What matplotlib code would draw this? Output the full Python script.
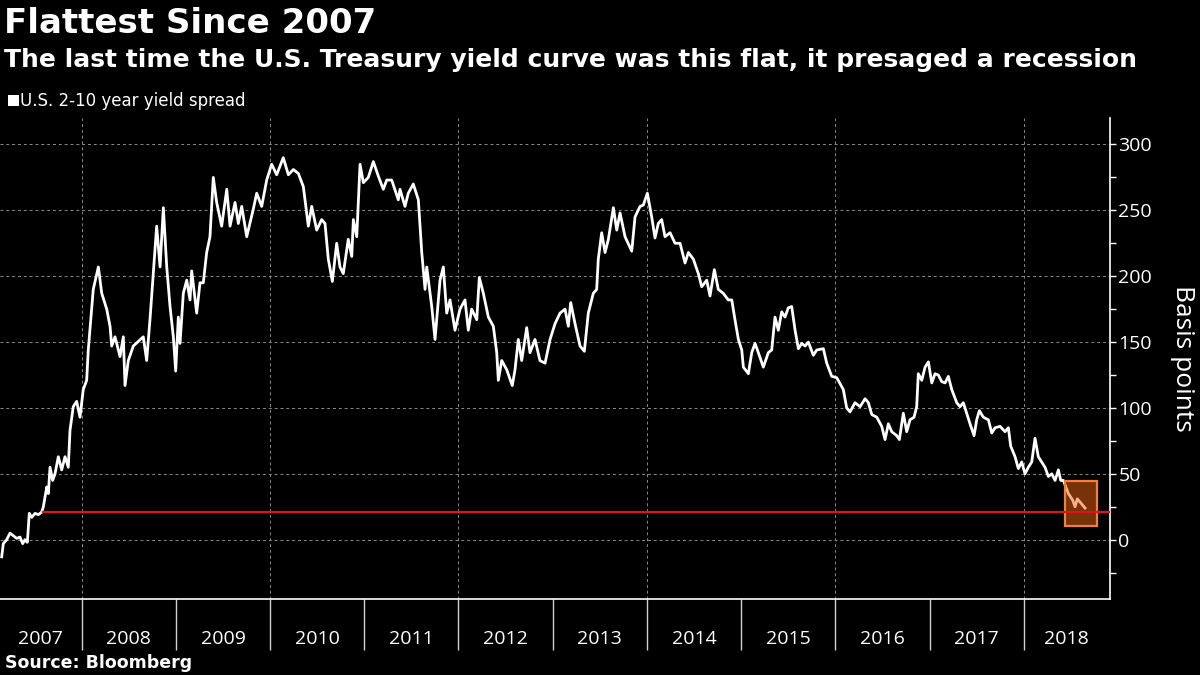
import matplotlib
matplotlib.use("Agg")
import matplotlib.pyplot as plt
from matplotlib.patches import Rectangle
from matplotlib.ticker import FixedLocator, NullFormatter, FixedFormatter

plt.rcParams['font.family'] = ['Open Sans', 'DejaVu Sans']

# ---- data (decimal year, basis points) ----
years = [
    2007.151, 2007.168, 2007.204, 2007.239, 2007.274, 2007.310, 2007.345, 2007.374, 2007.398, 2007.423,
    2007.444, 2007.470, 2007.505, 2007.540, 2007.576, 2007.593, 2007.629, 2007.646, 2007.664, 2007.692,
    2007.717, 2007.752, 2007.788, 2007.823, 2007.858, 2007.876, 2007.911, 2007.947, 2007.982, 2008.017,
    2008.053, 2008.070, 2008.123, 2008.177, 2008.213, 2008.266, 2008.301, 2008.319, 2008.354, 2008.407,
    2008.442, 2008.460, 2008.495, 2008.548, 2008.654, 2008.690, 2008.725, 2008.760, 2008.796, 2008.832,
    2008.867, 2008.903, 2008.938, 2008.973, 2008.998, 2009.026, 2009.044, 2009.079, 2009.115, 2009.150,
    2009.168, 2009.221, 2009.256, 2009.291, 2009.327, 2009.362, 2009.397, 2009.433, 2009.486, 2009.540,
    2009.575, 2009.628, 2009.663, 2009.699, 2009.752, 2009.822, 2009.858, 2009.911, 2009.964, 2010.017,
    2010.070, 2010.140, 2010.194, 2010.247, 2010.300, 2010.353, 2010.406, 2010.442, 2010.495, 2010.548,
    2010.583, 2010.618, 2010.661, 2010.707, 2010.742, 2010.777, 2010.830, 2010.867, 2010.884, 2010.920,
    2010.955, 2010.990, 2011.043, 2011.096, 2011.149, 2011.202, 2011.238, 2011.291, 2011.361, 2011.379,
    2011.432, 2011.467, 2011.520, 2011.574, 2011.610, 2011.645, 2011.663, 2011.716, 2011.751, 2011.804,
    2011.839, 2011.875, 2011.910, 2011.963, 2012.016, 2012.069, 2012.104, 2012.140, 2012.194, 2012.221,
    2012.264, 2012.317, 2012.370, 2012.406, 2012.423, 2012.459, 2012.512, 2012.571, 2012.600, 2012.635,
    2012.671, 2012.724, 2012.759, 2012.812, 2012.865, 2012.919, 2012.972, 2013.025, 2013.078, 2013.131,
    2013.166, 2013.191, 2013.237, 2013.290, 2013.336, 2013.378, 2013.431, 2013.467, 2013.484, 2013.520,
    2013.556, 2013.591, 2013.644, 2013.680, 2013.715, 2013.768, 2013.839, 2013.874, 2013.927, 2013.962,
    2014.005, 2014.051, 2014.086, 2014.121, 2014.157, 2014.192, 2014.246, 2014.299, 2014.352, 2014.405,
    2014.440, 2014.493, 2014.546, 2014.582, 2014.635, 2014.670, 2014.716, 2014.758, 2014.811, 2014.864,
    2014.901, 2014.935, 2014.971, 2015.007, 2015.024, 2015.077, 2015.113, 2015.148, 2015.183, 2015.236,
    2015.289, 2015.325, 2015.360, 2015.395, 2015.431, 2015.466, 2015.501, 2015.537, 2015.573, 2015.608,
    2015.644, 2015.679, 2015.714, 2015.767, 2015.803, 2015.873, 2015.909, 2015.962, 2016.015, 2016.085,
    2016.121, 2016.156, 2016.209, 2016.263, 2016.316, 2016.351, 2016.387, 2016.440, 2016.493, 2016.528,
    2016.563, 2016.599, 2016.652, 2016.680, 2016.722, 2016.758, 2016.793, 2016.836, 2016.864, 2016.881,
    2016.918, 2016.953, 2016.988, 2017.024, 2017.059, 2017.094, 2017.130, 2017.165, 2017.200, 2017.236,
    2017.289, 2017.324, 2017.359, 2017.395, 2017.430, 2017.473, 2017.501, 2017.529, 2017.571, 2017.625,
    2017.661, 2017.696, 2017.749, 2017.802, 2017.837, 2017.862, 2017.908, 2017.943, 2017.979, 2018.014,
    2018.049, 2018.085, 2018.120, 2018.155, 2018.191, 2018.226, 2018.262, 2018.298, 2018.333, 2018.368,
    2018.393, 2018.421, 2018.474, 2018.520, 2018.545, 2018.569, 2018.605, 2018.651,
]
spread = [
    -13, -3, 0, 5, 3, 1, 2, -3, 0, -2,
    20, 17, 20, 19, 21, 25, 40, 35, 55, 45,
    50, 63, 53, 63, 55, 83, 101, 105, 93, 114,
    121, 144, 190, 207, 187, 175, 162, 147, 154, 139,
    154, 117, 136, 147, 154, 136, 167, 202, 238, 207,
    252, 207, 177, 154, 128, 169, 149, 187, 197, 182,
    204, 172, 195, 195, 218, 230, 275, 256, 238, 266,
    238, 256, 240, 253, 230, 251, 263, 253, 273, 285,
    277, 290, 277, 281, 278, 268, 238, 253, 235, 243,
    240, 213, 196, 225, 207, 202, 228, 215, 243, 230,
    285, 271, 275, 287, 276, 266, 273, 273, 258, 266,
    253, 263, 270, 258, 218, 190, 207, 177, 152, 197,
    207, 172, 182, 159, 175, 182, 159, 175, 167, 199,
    187, 169, 162, 142, 121, 136, 129, 117, 129, 152,
    136, 161, 142, 152, 136, 134, 152, 164, 172, 175,
    162, 180, 164, 147, 143, 172, 187, 190, 213, 233,
    218, 228, 252, 235, 248, 230, 219, 245, 253, 254,
    263, 245, 229, 240, 243, 230, 233, 225, 225, 210,
    218, 213, 202, 192, 197, 185, 205, 190, 187, 182,
    182, 167, 152, 144, 131, 126, 142, 149, 142, 131,
    142, 144, 169, 159, 173, 169, 176, 177, 159, 145,
    149, 147, 150, 140, 144, 145, 134, 124, 123, 114,
    100, 97, 104, 101, 107, 104, 95, 93, 86, 76,
    88, 82, 79, 76, 96, 82, 91, 93, 101, 126,
    121, 131, 135, 119, 126, 125, 120, 119, 124, 114,
    104, 101, 104, 96, 88, 79, 91, 98, 93, 91,
    81, 85, 86, 82, 85, 71, 63, 54, 59, 50,
    55, 59, 77, 63, 59, 55, 48, 50, 45, 53,
    45, 45, 35, 30, 25, 31, 28, 24,
]

x_range = [2007.133, 2018.916]
y_range = [-45, 320]
year_labels = ['2007', '2008', '2009', '2010', '2011', '2012',
               '2013', '2014', '2015', '2016', '2017', '2018']
y_ticks = [0, 50, 100, 150, 200, 250, 300]
y_minor = [-25, 25, 75, 125, 175, 225, 275]
red_level = 21
red_start = 2007.59
box_x = [2018.44, 2018.78]
box_y = [10.3, 44.5]

title = "Flattest Since 2007"
subtitle = "The last time the U.S. Treasury yield curve was this flat, it presaged a recession"
legend_label = "U.S. 2-10 year yield spread"
y_label = "Basis points"
source = "Source: Bloomberg"

# ---- figure ----
fig = plt.figure(figsize=(12, 6.75), dpi=100, facecolor='black')
ax = fig.add_axes([0.0, 0.1126, 0.925, 0.7124])
ax.set_facecolor('black')

ax.plot(years, spread, color='white', lw=2.0, zorder=3, solid_joinstyle='round')

ax.add_patch(Rectangle((box_x[0], box_y[0]), box_x[1] - box_x[0], box_y[1] - box_y[0],
                       facecolor='#f06414', alpha=0.5, edgecolor='none', zorder=4))
ax.add_patch(Rectangle((box_x[0], box_y[0]), box_x[1] - box_x[0], box_y[1] - box_y[0],
                       facecolor='none', edgecolor='#f08040', lw=1.6, zorder=4))

ax.plot([red_start, x_range[1]], [red_level, red_level], color='#e01414', lw=1.6, zorder=5)

ax.set_xlim(*x_range)
ax.set_ylim(*y_range)

# gridlines
for yv in y_ticks:
    ax.axhline(yv, color='#8a8a8a', lw=0.7, ls=(0, (3, 3)), zorder=1)
first_year = int(year_labels[0])
boundaries = [first_year + i for i in range(1, len(year_labels))]
for b in boundaries:
    if b % 2 == 0:
        ax.axvline(b, color='#8a8a8a', lw=0.7, ls=(0, (3, 3)), zorder=1)

# spines
for s in ['top', 'left']:
    ax.spines[s].set_visible(False)
for s in ['bottom', 'right']:
    ax.spines[s].set_color('white')
    ax.spines[s].set_linewidth(1.2)

# x axis: long dividers at year boundaries, labels centred in each year
label_pos = []
for i, lab in enumerate(year_labels):
    y0 = max(int(lab), x_range[0])
    y1 = min(int(lab) + 1, x_range[1])
    label_pos.append((y0 + y1) / 2)
ax.xaxis.set_major_locator(FixedLocator(boundaries))
ax.xaxis.set_major_formatter(NullFormatter())
ax.xaxis.set_minor_locator(FixedLocator(label_pos))
ax.xaxis.set_minor_formatter(FixedFormatter(year_labels))
ax.tick_params(axis='x', which='major', direction='out', length=37, width=1.0, color='#cfcfcf')
ax.tick_params(axis='x', which='minor', length=0, pad=22, labelsize=14, labelcolor='white')

# y axis on right
ax.yaxis.tick_right()
ax.yaxis.set_label_position('right')
ax.set_yticks(y_ticks)
ax.set_yticklabels([str(v) for v in y_ticks])
ax.yaxis.set_minor_locator(FixedLocator(y_minor))
ax.tick_params(axis='y', which='major', direction='out', length=4, width=1.0, color='white',
               labelsize=14, labelcolor='white', pad=2)
ax.tick_params(axis='y', which='minor', direction='out', length=4, width=1.0, color='white')
ax.set_ylabel(y_label, color='white', fontsize=19, rotation=270, labelpad=31)

# texts
bold_fam = ['DejaVu Sans']
fig.text(0.003, 0.990, title, color='white', fontsize=24.5, fontweight='bold', va='top', ha='left',
         family=bold_fam)
fig.text(0.003, 0.929, subtitle, color='white', fontsize=18, fontweight='bold', va='top', ha='left',
         family=bold_fam)
fig.patches.append(Rectangle((0.007, 0.843), 0.0085, 0.0160, transform=fig.transFigure,
                             facecolor='white', edgecolor='none', figure=fig))
fig.text(0.017, 0.851, legend_label, color='white', fontsize=12, va='center', ha='left',
         family=bold_fam)
fig.text(0.004, 0.018, source, color='white', fontsize=12.5, fontweight='bold', va='center', ha='left',
         family=bold_fam)

fig.savefig('out.png', dpi=100, facecolor='black')
